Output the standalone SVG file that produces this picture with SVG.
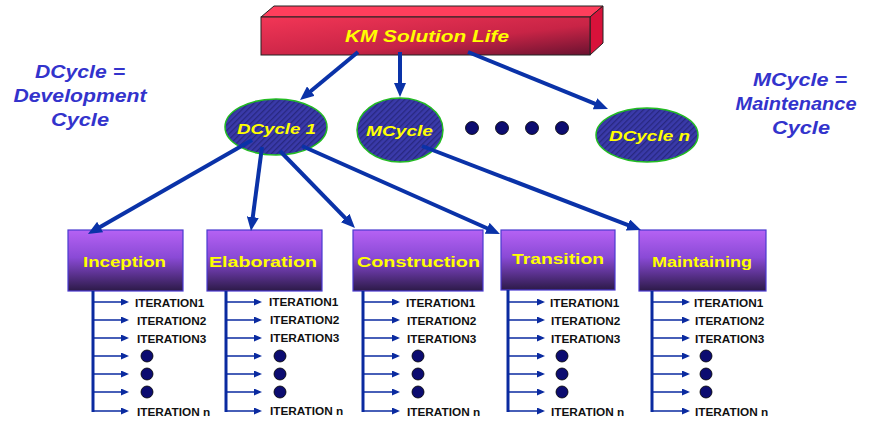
<svg xmlns="http://www.w3.org/2000/svg" width="870" height="421" viewBox="0 0 870 421">
<style>
.side{font-family:"Liberation Sans",Arial,sans-serif;font-weight:bold;font-style:italic;font-size:18.5px;fill:#3333cc;text-anchor:middle}
.ell{fill:url(#hatch);stroke:#22bb22;stroke-width:1.5}
.elt{font-family:"Liberation Sans",Arial,sans-serif;font-weight:bold;font-style:italic;font-size:15px;fill:#ffff00}
.box{fill:url(#boxg);stroke:#4a3ad0;stroke-width:1.2}
.bxt{font-family:"Liberation Sans",Arial,sans-serif;font-weight:bold;font-size:15px;fill:#ffff00}
.it{font-family:"Liberation Sans",Arial,sans-serif;font-weight:bold;font-size:11.8px;fill:#111}
.vl{stroke:#0a2aa0;stroke-width:3}
.hl{stroke:#0a2aa0;stroke-width:1.4;marker-end:url(#sm)}
.dot{fill:#0c0c70;stroke:#000;stroke-width:0.8}
.con{stroke:#0a32a8;stroke-width:4;fill:none;marker-end:url(#big)}
</style>
<defs>
<linearGradient id="boxg" x1="0" y1="0" x2="0" y2="1">
<stop offset="0" stop-color="#b662f4"/>
<stop offset="0.45" stop-color="#8a4ad6"/>
<stop offset="1" stop-color="#2c1a48"/>
</linearGradient>
<linearGradient id="front" x1="0" y1="0" x2="1" y2="1">
<stop offset="0" stop-color="#f23656"/>
<stop offset="0.6" stop-color="#c82446"/>
<stop offset="1" stop-color="#6a1230"/>
</linearGradient>
<pattern id="hatch" width="4" height="4" patternUnits="userSpaceOnUse" patternTransform="rotate(45)">
<rect width="4" height="4" fill="#3a3aaa"/>
<rect width="1.3" height="4" fill="#282880"/>
</pattern>
<marker id="big" viewBox="0 0 14 12" refX="3" refY="6" markerWidth="14" markerHeight="12" markerUnits="userSpaceOnUse" orient="auto">
<path d="M0,0 L14,6 L0,12 z" fill="#0a32a8"/>
</marker>
<marker id="sm" viewBox="0 0 8 7" refX="6" refY="3.5" markerWidth="8" markerHeight="7" markerUnits="userSpaceOnUse" orient="auto">
<path d="M0,0 L8,3.5 L0,7 z" fill="#0a2aa0"/>
</marker>
</defs>
<rect width="870" height="421" fill="#ffffff"/>

<g id="legend-d">
<text class="side" x="80" y="78" textLength="90" lengthAdjust="spacingAndGlyphs">DCycle =</text>
<text class="side" x="80" y="102" textLength="133" lengthAdjust="spacingAndGlyphs">Development</text>
<text class="side" x="80" y="126" textLength="58" lengthAdjust="spacingAndGlyphs">Cycle</text>
</g>
<g id="legend-m">
<text class="side" x="800" y="86" textLength="94" lengthAdjust="spacingAndGlyphs">MCycle =</text>
<text class="side" x="796" y="110" textLength="121" lengthAdjust="spacingAndGlyphs">Maintenance</text>
<text class="side" x="801" y="134" textLength="58" lengthAdjust="spacingAndGlyphs">Cycle</text>
</g>

<g id="km-life">
<polygon points="261,17 274,6 603,6 590,17" fill="#ff3e5c" stroke="#222" stroke-width="1"/>
<polygon points="590,17 603,6 603,43 590,55" fill="#d8123a" stroke="#222" stroke-width="1"/>
<rect x="261" y="17" width="329" height="38" fill="url(#front)" stroke="#222" stroke-width="1"/>
<text x="345" y="42" textLength="164" lengthAdjust="spacingAndGlyphs" style="font-family:'Liberation Sans',Arial,sans-serif;font-weight:bold;font-style:italic;font-size:16px;fill:#ffff00">KM Solution Life</text>
</g>

<g id="dcycle1">
<ellipse class="ell" cx="276" cy="127" rx="51" ry="28"/>
<text class="elt" x="237" y="134" textLength="79" lengthAdjust="spacingAndGlyphs">DCycle 1</text>
</g>
<g id="mcycle">
<ellipse class="ell" cx="400" cy="130" rx="43" ry="32"/>
<text class="elt" x="366" y="136" textLength="67" lengthAdjust="spacingAndGlyphs">MCycle</text>
</g>
<g id="dots-top">
<circle class="dot" cx="472" cy="128" r="6.5"/>
<circle class="dot" cx="502" cy="128" r="6.5"/>
<circle class="dot" cx="532" cy="128" r="6.5"/>
<circle class="dot" cx="562" cy="128" r="6.5"/>
</g>
<g id="dcyclen">
<ellipse class="ell" cx="647" cy="135" rx="51" ry="27"/>
<text class="elt" x="609" y="141" textLength="81" lengthAdjust="spacingAndGlyphs">DCycle n</text>
</g>

<g id="inception">
<rect class="box" x="68" y="230" width="115" height="61"/>
<text class="bxt" x="83" y="267" textLength="83" lengthAdjust="spacingAndGlyphs">Inception</text>
</g>
<g id="elaboration">
<rect class="box" x="207" y="230" width="115" height="61"/>
<text class="bxt" x="209" y="267" textLength="108" lengthAdjust="spacingAndGlyphs">Elaboration</text>
</g>
<g id="construction">
<rect class="box" x="353" y="230" width="130" height="61"/>
<text class="bxt" x="357" y="267" textLength="123" lengthAdjust="spacingAndGlyphs">Construction</text>
</g>
<g id="transition">
<rect class="box" x="501" y="230" width="114" height="60"/>
<text class="bxt" x="512" y="264" textLength="92" lengthAdjust="spacingAndGlyphs">Transition</text>
</g>
<g id="maintaining">
<rect class="box" x="639" y="230" width="127" height="61"/>
<text class="bxt" x="652" y="267" textLength="100" lengthAdjust="spacingAndGlyphs">Maintaining</text>
</g>

<g id="iter-inception">
<line class="vl" x1="93" y1="291" x2="93" y2="412"/>
<line class="hl" x1="93" y1="302" x2="127" y2="302"/>
<line class="hl" x1="93" y1="320" x2="127" y2="320"/>
<line class="hl" x1="93" y1="338" x2="127" y2="338"/>
<line class="hl" x1="93" y1="356" x2="127" y2="356"/>
<line class="hl" x1="93" y1="374" x2="127" y2="374"/>
<line class="hl" x1="93" y1="392" x2="127" y2="392"/>
<line class="hl" x1="93" y1="411" x2="127" y2="411"/>
<text class="it" x="135" y="307">ITERATION1</text>
<text class="it" x="137" y="325">ITERATION2</text>
<text class="it" x="137" y="343">ITERATION3</text>
<circle class="dot" cx="147" cy="356" r="6"/>
<circle class="dot" cx="147" cy="374" r="6"/>
<circle class="dot" cx="147" cy="392" r="6"/>
<text class="it" x="137" y="416">ITERATION n</text>
</g>
<g id="iter-elaboration">
<line class="vl" x1="226" y1="291" x2="226" y2="412"/>
<line class="hl" x1="226" y1="302" x2="260" y2="302"/>
<line class="hl" x1="226" y1="320" x2="260" y2="320"/>
<line class="hl" x1="226" y1="338" x2="260" y2="338"/>
<line class="hl" x1="226" y1="356" x2="260" y2="356"/>
<line class="hl" x1="226" y1="374" x2="260" y2="374"/>
<line class="hl" x1="226" y1="392" x2="260" y2="392"/>
<line class="hl" x1="226" y1="411" x2="260" y2="411"/>
<text class="it" x="269" y="306">ITERATION1</text>
<text class="it" x="270" y="324">ITERATION2</text>
<text class="it" x="270" y="342">ITERATION3</text>
<circle class="dot" cx="280" cy="356" r="6"/>
<circle class="dot" cx="280" cy="374" r="6"/>
<circle class="dot" cx="280" cy="392" r="6"/>
<text class="it" x="270" y="415">ITERATION n</text>
</g>
<g id="iter-construction">
<line class="vl" x1="363" y1="291" x2="363" y2="412"/>
<line class="hl" x1="363" y1="302" x2="398" y2="302"/>
<line class="hl" x1="363" y1="320" x2="398" y2="320"/>
<line class="hl" x1="363" y1="338" x2="398" y2="338"/>
<line class="hl" x1="363" y1="356" x2="398" y2="356"/>
<line class="hl" x1="363" y1="374" x2="398" y2="374"/>
<line class="hl" x1="363" y1="392" x2="398" y2="392"/>
<line class="hl" x1="363" y1="411" x2="398" y2="411"/>
<text class="it" x="406" y="307">ITERATION1</text>
<text class="it" x="407" y="325">ITERATION2</text>
<text class="it" x="407" y="343">ITERATION3</text>
<circle class="dot" cx="418" cy="356" r="6"/>
<circle class="dot" cx="418" cy="374" r="6"/>
<circle class="dot" cx="418" cy="392" r="6"/>
<text class="it" x="407" y="416">ITERATION n</text>
</g>
<g id="iter-transition">
<line class="vl" x1="508" y1="290" x2="508" y2="412"/>
<line class="hl" x1="508" y1="302" x2="543" y2="302"/>
<line class="hl" x1="508" y1="320" x2="543" y2="320"/>
<line class="hl" x1="508" y1="338" x2="543" y2="338"/>
<line class="hl" x1="508" y1="356" x2="543" y2="356"/>
<line class="hl" x1="508" y1="374" x2="543" y2="374"/>
<line class="hl" x1="508" y1="392" x2="543" y2="392"/>
<line class="hl" x1="508" y1="411" x2="543" y2="411"/>
<text class="it" x="550" y="307">ITERATION1</text>
<text class="it" x="551" y="325">ITERATION2</text>
<text class="it" x="551" y="343">ITERATION3</text>
<circle class="dot" cx="562" cy="356" r="6"/>
<circle class="dot" cx="562" cy="374" r="6"/>
<circle class="dot" cx="562" cy="392" r="6"/>
<text class="it" x="551" y="416">ITERATION n</text>
</g>
<g id="iter-maintaining">
<line class="vl" x1="652" y1="291" x2="652" y2="412"/>
<line class="hl" x1="652" y1="302" x2="688" y2="302"/>
<line class="hl" x1="652" y1="320" x2="688" y2="320"/>
<line class="hl" x1="652" y1="338" x2="688" y2="338"/>
<line class="hl" x1="652" y1="356" x2="688" y2="356"/>
<line class="hl" x1="652" y1="374" x2="688" y2="374"/>
<line class="hl" x1="652" y1="392" x2="688" y2="392"/>
<line class="hl" x1="652" y1="411" x2="688" y2="411"/>
<text class="it" x="694" y="307">ITERATION1</text>
<text class="it" x="695" y="325">ITERATION2</text>
<text class="it" x="695" y="343">ITERATION3</text>
<circle class="dot" cx="706" cy="356" r="6"/>
<circle class="dot" cx="706" cy="374" r="6"/>
<circle class="dot" cx="706" cy="392" r="6"/>
<text class="it" x="695" y="416">ITERATION n</text>
</g>

<g id="connectors">
<line class="con" x1="358" y1="52" x2="308.5" y2="93"/>
<line class="con" x1="400" y1="52" x2="400" y2="86"/>
<line class="con" x1="468" y1="52" x2="597.8" y2="104.9"/>
<line class="con" x1="252" y1="140" x2="97.5" y2="228.5"/>
<line class="con" x1="262" y1="147" x2="252.4" y2="220.1"/>
<line class="con" x1="280" y1="151" x2="347.3" y2="220.1"/>
<line class="con" x1="302" y1="146" x2="489.9" y2="229.5"/>
<line class="con" x1="422" y1="146" x2="630.7" y2="226.1"/>
</g>
</svg>
